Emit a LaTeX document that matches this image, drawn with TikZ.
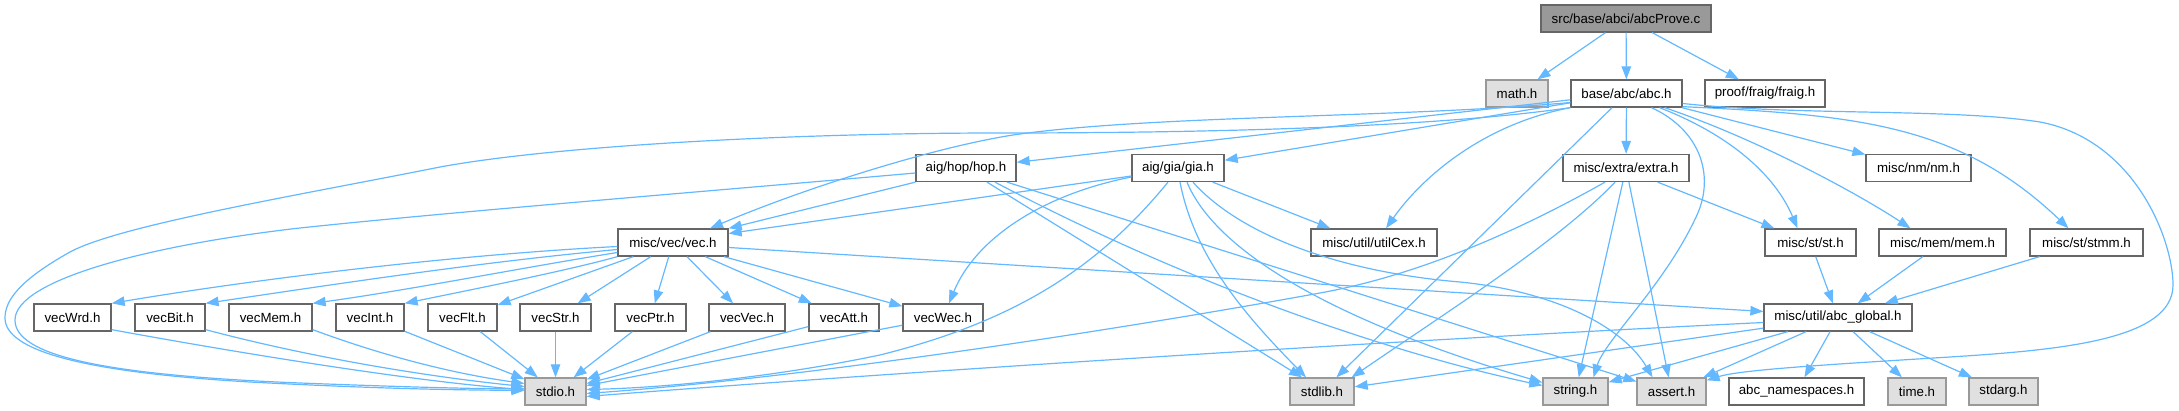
\documentclass[tikz,border=0pt]{standalone}
\usepackage{fontspec}
\setmainfont{Liberation Sans}
\usetikzlibrary{arrows.meta,calc}
\definecolor{edgeblue}{HTML}{63B8FF}
\definecolor{bordergray}{HTML}{666666}
\definecolor{lightborder}{HTML}{999999}
\definecolor{lightfill}{HTML}{E0E0E0}
\definecolor{darkfill}{HTML}{999999}
\begin{document}
\begin{tikzpicture}[x=1pt,y=-1pt,
  font=\fontsize{13.3}{16}\selectfont,
  basebox/.style={line width=1.3pt, minimum height=27pt, inner sep=0pt, text=black},
  whitebox/.style={basebox, draw=bordergray, fill=white},
  graybox/.style={basebox, draw=lightborder, fill=lightfill},
  topbox/.style={basebox, draw=bordergray, fill=darkfill},
  dep/.style={draw=edgeblue, line width=1.2pt, -{Triangle[length=13pt,width=9.5pt]}}]
\useasboundingbox (0,0) rectangle (2179,411);
% row 0
\node[topbox, minimum width=170pt] (prove) at (1626,18.5) {src/base/abci/abcProve.c};
% row 1
\node[graybox, minimum width=62pt] (math) at (1517,93.5) {math.h};
\node[whitebox, minimum width=111pt] (abc) at (1626.5,93.5) {base/abc/abc.h};
\node[whitebox, minimum width=120pt] (fraig) at (1765,93.5) {proof/fraig/fraig.h};
% row 2
\node[whitebox, minimum width=100pt] (hop) at (966,168) {aig/hop/hop.h};
\node[whitebox, minimum width=92pt] (gia) at (1178,168) {aig/gia/gia.h};
\node[whitebox, minimum width=126pt] (extra) at (1626,168) {misc/extra/extra.h};
\node[whitebox, minimum width=105pt] (nm) at (1918.5,168) {misc/nm/nm.h};
% row 3
\node[whitebox, minimum width=110pt] (vec) at (673,242.5) {misc/vec/vec.h};
\node[whitebox, minimum width=126pt] (utilcex) at (1374,242.5) {misc/util/utilCex.h};
\node[whitebox, minimum width=91pt] (st) at (1810.5,242.5) {misc/st/st.h};
\node[whitebox, minimum width=127pt] (mem) at (1942.5,242.5) {misc/mem/mem.h};
\node[whitebox, minimum width=113pt] (stmm) at (2086.5,242.5) {misc/st/stmm.h};
% row 4
\node[whitebox, minimum width=77pt] (vecwrd) at (72.5,317.5) {vecWrd.h};
\node[whitebox, minimum width=70pt] (vecbit) at (170,317.5) {vecBit.h};
\node[whitebox, minimum width=83pt] (vecmem) at (270.5,317.5) {vecMem.h};
\node[whitebox, minimum width=68pt] (vecint) at (370,317.5) {vecInt.h};
\node[whitebox, minimum width=69pt] (vecflt) at (462.5,317.5) {vecFlt.h};
\node[whitebox, minimum width=71pt] (vecstr) at (555.5,317.5) {vecStr.h};
\node[whitebox, minimum width=71pt] (vecptr) at (650.5,317.5) {vecPtr.h};
\node[whitebox, minimum width=76pt] (vecvec) at (747,317.5) {vecVec.h};
\node[whitebox, minimum width=70pt] (vecatt) at (844,317.5) {vecAtt.h};
\node[whitebox, minimum width=80pt] (vecwec) at (943,317.5) {vecWec.h};
\node[whitebox, minimum width=148pt] (global) at (1838,317.5) {misc/util/abc\_global.h};
% row 5
\node[graybox, minimum width=61pt] (stdio) at (555.5,391.5) {stdio.h};
\node[graybox, minimum width=64pt] (stdlib) at (1322,391.5) {stdlib.h};
\node[graybox, minimum width=65pt] (string) at (1575.5,391.5) {string.h};
\node[graybox, minimum width=69pt] (assert) at (1671.5,391.5) {assert.h};
\node[whitebox, minimum width=135pt] (ns) at (1796.5,391.5) {abc\_namespaces.h};
\node[graybox, minimum width=58pt] (time) at (1917,391.5) {time.h};
\node[graybox, minimum width=69pt] (stdarg) at (2003.5,391.5) {stdarg.h};

% abcProve.c
\draw[dep] (prove) -- (math);
\draw[dep] (prove) -- (abc);
\draw[dep] (prove) -- (fraig);
% abc.h
\draw[dep] (abc) -- (extra);
\draw[dep] (abc) -- (nm);
\draw[dep] (abc) -- (hop);
\draw[dep] (abc) -- (gia);
\draw[dep] (abc) -- (stdlib);
\draw[dep] (abc.south west) .. controls (1480,125) and (1420,180) .. ($(utilcex.north)+(12,0)$);
\draw[dep] (abc.south west) .. controls (1450,125) and (1250,133) .. (1000,133)
   .. controls (800,133) and (560,145) .. (440,167)
   .. controls (300,195) and (120,225) .. (70,252)
   .. controls (20,280) and (5,300) .. (5,318)
   .. controls (5,350) and (80,372) .. (250,382)
   .. controls (400,390) and (480,390) .. ($(stdio.west)+(0,-1)$);
\draw[dep] ($(abc.west)+(0,9)$) .. controls (1400,118) and (1150,115) .. (1013,135)
   .. controls (930,148) and (800,190) .. ($(vec.north)+(37,0)$);
\draw[dep] ($(abc.south)+(25,0)$) .. controls (1700,130) and (1715,175) .. (1697,215)
   .. controls (1665,285) and (1605,340) .. ($(string.north)+(18,0)$);
\draw[dep] ($(abc.south)+(33,0)$) .. controls (1730,135) and (1775,175) .. ($(st.north)+(-13,0)$);
\draw[dep] ($(abc.south east)+(-18,0)$) .. controls (1760,140) and (1860,195) .. ($(mem.north)+(-32,0)$);
\draw[dep] ($(abc.south east)+(0,-1)$) .. controls (1860,115) and (1960,125) .. ($(stmm.north)+(-18,0)$);
\draw[dep] ($(abc.east)+(0,10)$) .. controls (1800,116) and (1950,108) .. (2040,122)
   .. controls (2135,140) and (2173,240) .. (2173,285)
   .. controls (2173,340) and (2060,350) .. (1950,357)
   .. controls (1820,365) and (1740,370) .. ($(assert.north east)+(0,3)$);
% hop.h
\draw[dep] ($(hop.west)+(0,5)$) .. controls (700,192) and (450,212) .. (300,228)
   .. controls (150,245) and (15,280) .. (15,320)
   .. controls (15,355) and (100,375) .. (300,383)
   .. controls (430,388) and (490,389) .. ($(stdio.west)+(0,-3)$);
\draw[dep] (hop.south west) -- (vec.north east);
\draw[dep] ($(hop.south)+(21,0)$) -- ($(stdlib.north)+(-20,0)$);
\draw[dep] ($(hop.south)+(29,0)$) .. controls (1200,290) and (1400,355) .. ($(string.west)+(0,-6)$);
\draw[dep] ($(hop.south)+(41,0)$) -- ($(assert.west)+(0,-10)$);
% gia.h
\draw[dep] ($(gia.west)+(0,8)$) -- ($(vec.east)+(0,-9)$);
\draw[dep] ($(gia.west)+(0,9)$) .. controls (1040,195) and (975,240) .. ($(vecwec.north)+(6,0)$);
\draw[dep] ($(gia.south)+(-10,0)$) .. controls (1100,265) and (1020,320) .. (880,355)
   .. controls (760,380) and (650,388) .. ($(stdio.east)+(0,-2)$);
\draw[dep] ($(gia.south)+(2,0)$) .. controls (1195,260) and (1250,320) .. ($(stdlib.north)+(-16,0)$);
\draw[dep] ($(gia.south)+(9,0)$) .. controls (1215,250) and (1330,320) .. ($(string.west)+(0,-9)$);
\draw[dep] ($(gia.south)+(15,0)$) .. controls (1240,235) and (1340,272) .. (1460,282)
   .. controls (1560,292) and (1625,330) .. ($(assert.north)+(-19,0)$);
\draw[dep] ($(gia.south east)+(-12,0)$) -- ($(utilcex.north west)+(20,0)$);
% vec.h
\draw[dep] ($(vec.west)+(0,4)$) .. controls (450,255) and (250,280) .. (vecwrd.north east);
\draw[dep] ($(vec.west)+(0,7)$) .. controls (480,262) and (330,285) .. (vecbit.north east);
\draw[dep] ($(vec.west)+(0,10)$) .. controls (520,268) and (410,290) .. (vecmem.north east);
\draw[dep] (vec.south west) .. controls (570,270) and (470,290) .. (vecint.north east);
\draw[dep] (vec) -- (vecflt);
\draw[dep] (vec) -- (vecstr);
\draw[dep] (vec) -- (vecptr);
\draw[dep] (vec) -- (vecvec);
\draw[dep] (vec) -- (vecatt);
\draw[dep] (vec) -- (vecwec);
\draw[dep] ($(vec.east)+(0,5)$) -- ($(global.west)+(0,-6)$);
% vec*.h -> stdio.h
\draw[dep] ($(vecwrd.south east)+(0,-2)$) .. controls (250,355) and (420,382) .. ($(stdio.west)+(0,-2)$);
\draw[dep] ($(vecbit.south east)+(0,-2)$) .. controls (320,360) and (440,378) .. ($(stdio.west)+(0,-5)$);
\draw[dep] ($(vecmem.south east)+(0,-2)$) .. controls (400,362) and (470,376) .. ($(stdio.west)+(0,-8)$);
\draw[dep] (vecint) -- (stdio);
\draw[dep] (vecflt) -- (stdio);
\draw[dep] (vecstr) -- (stdio);
\draw[dep] (vecptr) -- (stdio);
\draw[dep] (vecvec) -- (stdio);
\draw[dep] (vecatt) -- (stdio);
\draw[dep] (vecwec) -- (stdio);
% extra.h
\draw[dep] ($(extra.south)+(-21,0)$) .. controls (1520,230) and (1420,275) .. (1320,293)
   .. controls (1100,333) and (800,378) .. ($(stdio.east)+(0,2)$);
\draw[dep] ($(extra.south)+(-11,0)$) .. controls (1560,240) and (1450,310) .. ($(stdlib.north east)+(-3,0)$);
\draw[dep] (extra) -- (string);
\draw[dep] (extra) -- (assert);
\draw[dep] ($(extra.south east)+(-32,0)$) -- ($(st.north west)+(10,0)$);
% st, mem, stmm
\draw[dep] (st) -- (global);
\draw[dep] (mem) -- (global);
\draw[dep] (stmm) -- (global);
% abc_global.h
\draw[dep] ($(global.west)+(0,5)$) .. controls (1400,340) and (900,372) .. ($(stdio.east)+(0,5)$);
\draw[dep] (global) -- (stdlib);
\draw[dep] (global) -- (string);
\draw[dep] (global) -- (assert);
\draw[dep] (global) -- (ns);
\draw[dep] (global) -- (time);
\draw[dep] (global) -- (stdarg);
\end{tikzpicture}
\end{document}
